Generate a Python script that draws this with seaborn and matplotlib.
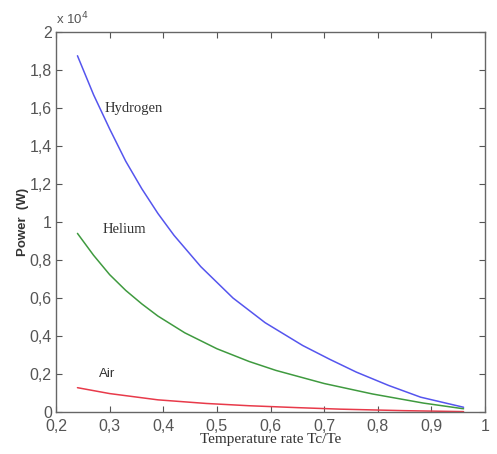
import matplotlib
matplotlib.use("Agg")
import matplotlib.pyplot as plt
import seaborn as sns
import pandas as pd
from matplotlib.ticker import FuncFormatter

# values (power in units of 1e4 W)
h2_rate = [0.24, 0.27, 0.30, 0.33, 0.36, 0.39, 0.42, 0.47, 0.53, 0.59,
           0.66, 0.71, 0.76, 0.82, 0.88, 0.96]
h2_power = [1.875, 1.67, 1.49, 1.32, 1.175, 1.045, 0.93, 0.765, 0.60, 0.47,
            0.35, 0.278, 0.21, 0.14, 0.078, 0.025]

he_rate = [0.24, 0.27, 0.30, 0.33, 0.36, 0.39, 0.44, 0.50, 0.56, 0.61,
           0.70, 0.79, 0.885, 0.96]
he_power = [0.94, 0.825, 0.723, 0.64, 0.569, 0.505, 0.417, 0.333, 0.266, 0.219,
            0.150, 0.095, 0.047, 0.017]

air_rate = [0.24, 0.30, 0.39, 0.48, 0.56, 0.65, 0.73, 0.85, 0.96]
air_power = [0.128, 0.097, 0.064, 0.045, 0.033, 0.023, 0.015, 0.007, 0.002]

x_ticks = [0.2, 0.3, 0.4, 0.5, 0.6, 0.7, 0.8, 0.9, 1.0]
y_ticks = [0, 0.2, 0.4, 0.6, 0.8, 1.0, 1.2, 1.4, 1.6, 1.8, 2.0]

sns.set_style("ticks")
plt.rcParams["font.family"] = ["Liberation Sans", "DejaVu Sans"]

fig = plt.figure(figsize=(4.97, 4.54), dpi=100)
ax = fig.add_axes([0.1127, 0.0925, 0.8632, 0.837])

for rate, power, color in [(h2_rate, h2_power, "#5555ee"),
                           (he_rate, he_power, "#3f9a3f"),
                           (air_rate, air_power, "#e83a4a")]:
    df = pd.DataFrame({"rate": rate, "power": power})
    sns.lineplot(data=df, x="rate", y="power", ax=ax, color=color,
                 linewidth=1.1, estimator=None, sort=False)

ax.set_xlim(0.2, 1.0)
ax.set_ylim(0, 2.0)
ax.set_xticks(x_ticks)
ax.set_yticks(y_ticks)


def comma_fmt(v, pos):
    s = f"{v:.1f}".rstrip("0").rstrip(".")
    return s.replace(".", ",")


ax.xaxis.set_major_formatter(FuncFormatter(comma_fmt))
ax.yaxis.set_major_formatter(FuncFormatter(comma_fmt))

ax.tick_params(direction="in", top=True, right=True, length=4, width=0.8,
               colors="#555555", labelsize=11.5, labelcolor="#555555", pad=3)
ax.tick_params(axis="x", pad=5)
for side in ax.spines.values():
    side.set_color("#666666")
    side.set_linewidth(1.0)

ax.set_xlabel("Temperature rate Tc/Te", family="Liberation Serif", fontsize=11,
              color="#333333", labelpad=-1)
ax.set_ylabel("Power  (W)", fontsize=9.5, fontweight="bold", color="#333333",
              labelpad=0.5)

ax.text(0.0, 1.012, "x 10$^4$", transform=ax.transAxes, fontsize=9.5,
        color="#555555", ha="left", va="bottom")

ax.text(0.29, 1.60, "Hydrogen", family="Liberation Serif", fontsize=10.5,
        color="#333333", va="center")
ax.text(0.287, 0.96, "Helium", family="Liberation Serif", fontsize=10.5,
        color="#333333", va="center")
ax.text(0.28, 0.20, "Air", fontsize=9.5, color="#333333", va="center")

fig.savefig("out.png", dpi=100)
